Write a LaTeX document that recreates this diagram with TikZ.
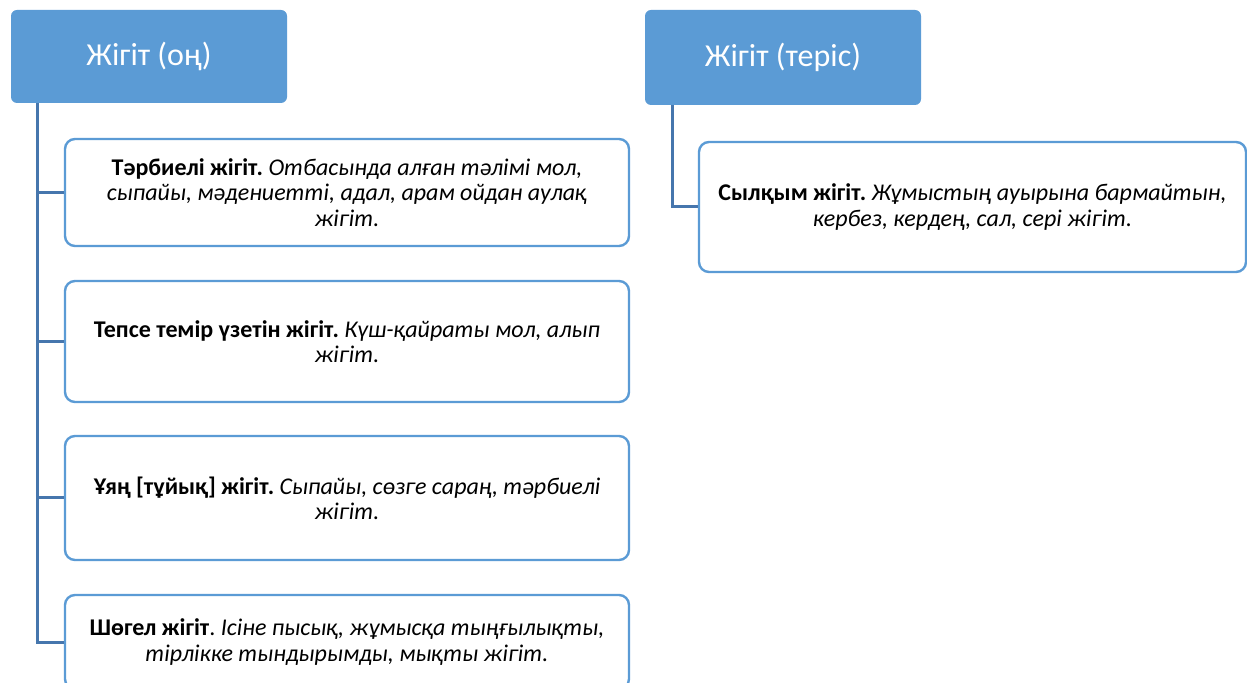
\documentclass[tikz,border=0pt]{standalone}
\usepackage{fontspec}
\setmainfont{Carlito}
\usetikzlibrary{calc}

\definecolor{headblue}{HTML}{5B9BD5}
\definecolor{edgeblue}{HTML}{5B9BD5}
\definecolor{linkblue}{HTML}{4676AD}

\tikzset{
  head/.style={draw=none, fill=headblue, rounded corners=3pt, text=white,
    minimum width=138pt, minimum height=46.5pt, inner sep=0pt,
    font=\fontsize{16}{19}\selectfont},
  card/.style={draw=edgeblue, line width=1.2pt, fill=white, rounded corners=5pt,
    inner sep=0pt, align=flush center, font=\fontsize{12}{12.6}\selectfont\frenchspacing},
  link/.style={draw=linkblue, line width=1.5pt}
}

\begin{document}
\begin{tikzpicture}[x=0.5pt, y=-0.5pt]
\useasboundingbox (0,0) rectangle (1247,683);
\clip (0,0) rectangle (1247,683);

% left column: positive
\node[head] (hL) at (149,56.5) {Жігіт (оң)};
\coordinate (tL) at (37.5,103);

\node[card, minimum width=282pt, minimum height=53.5pt, text width=274pt] (b1) at (347,192.5)
  {\textbf{Тәрбиелі жігіт.} \textit{Отбасында алған тәлімі мол,\\ сыпайы, мәдениетті, адал, арам ойдан аулақ\\ жігіт.}};
\node[card, minimum width=282pt, minimum height=60.5pt, text width=274pt] (b2) at (347,341.5)
  {\textbf{Тепсе темір үзетін жігіт.} \textit{Күш-қайраты мол, алып\\ жігіт.}};
\node[card, minimum width=282pt, minimum height=62pt, text width=274pt] (b3) at (347,498)
  {\textbf{Ұяң [тұйық] жігіт.} \textit{Сыпайы, сөзге сараң, тәрбиелі\\ жігіт.}};
\node[card, minimum width=282pt, minimum height=47pt, text width=274pt] (b4) at (347,642)
  {\textbf{Шөгел жігіт}. \textit{Ісіне пысық, жұмысқа тыңғылықты,\\ тірлікке тындырымды, мықты жігіт.}};

\draw[link] (tL) |- (b4.west);
\draw[link] (b1.west) -- (b1.west -| tL);
\draw[link] (b2.west) -- (b2.west -| tL);
\draw[link] (b3.west) -- (b3.west -| tL);

% right column: negative
\node[head, minimum height=47.5pt] (hR) at (783,57.5) {Жігіт (теріс)};
\coordinate (tR) at (672,105);

\node[card, minimum width=273.5pt, minimum height=65pt, text width=266pt] (r1) at (972.5,207)
  {\textbf{Сылқым жігіт.} \textit{Жұмыстың ауырына бармайтын,\\ кербез, кердең, сал, сері жігіт.}};

\draw[link] (tR) |- (r1.west);
\end{tikzpicture}
\end{document}
